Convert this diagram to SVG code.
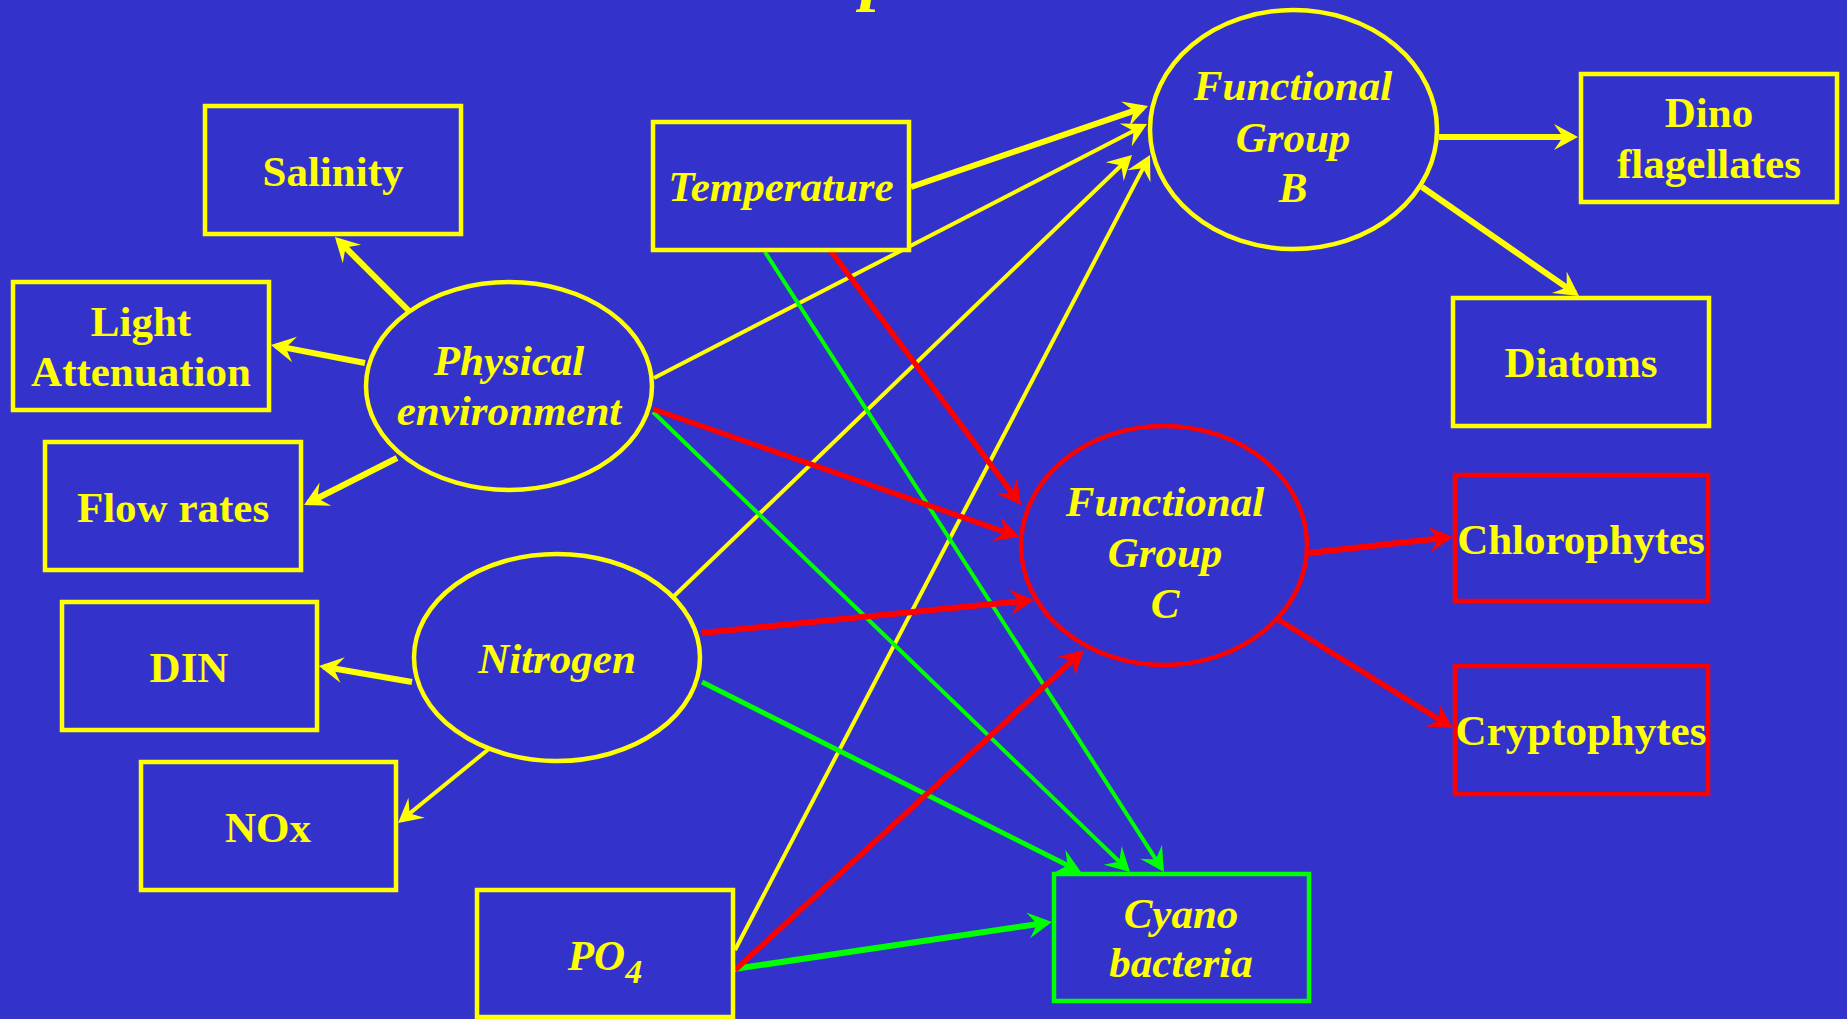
<svg xmlns="http://www.w3.org/2000/svg" width="1847" height="1019" viewBox="0 0 1847 1019">
  <style>
    .box { fill: #3333CC; stroke-width: 4.5; }
    .node { fill: #3333CC; stroke-width: 4.5; }
    .y { stroke: #FFFF00; }
    .r { stroke: #FF0000; }
    .g { stroke: #00FF00; }
    .lbl { fill: #FFFF00; font-family: "Liberation Serif", "Times New Roman", serif; font-size: 43px; font-weight: bold; text-anchor: middle; }
    .it { font-style: italic; }
    .links line { fill: none; stroke-linecap: butt; }
    .thick { stroke-width: 6; }
    .thin { stroke-width: 4; }
  </style>
  <defs>
    <marker id="ay" viewBox="-20 -14 26 28" refX="0" refY="0" markerWidth="26" markerHeight="28" markerUnits="userSpaceOnUse" orient="auto">
      <path d="M5,0 L-19,-13 L-10,0 L-19,13 Z" fill="#FFFF00"/>
    </marker>
    <marker id="ar" viewBox="-20 -14 26 28" refX="0" refY="0" markerWidth="26" markerHeight="28" markerUnits="userSpaceOnUse" orient="auto">
      <path d="M5,0 L-19,-13 L-10,0 L-19,13 Z" fill="#FF0000"/>
    </marker>
    <marker id="ag" viewBox="-20 -14 26 28" refX="0" refY="0" markerWidth="26" markerHeight="28" markerUnits="userSpaceOnUse" orient="auto">
      <path d="M5,0 L-19,-13 L-10,0 L-19,13 Z" fill="#00FF00"/>
    </marker>
  </defs>

  <!-- background -->
  <rect x="0" y="0" width="1847" height="1019" fill="#3333CC"/>

  <!-- heading, running above the top edge -->
  <text class="lbl it" x="879" y="-3" style="font-size:72px">p</text>

  <!-- connectors -->
  <g id="connectors" class="links">
    <!-- yellow -->
    <line class="y thick" x1="411" y1="313" x2="338.5" y2="240.5" marker-end="url(#ay)"/>
    <line class="y thick" x1="365" y1="363" x2="275.9" y2="345.9" marker-end="url(#ay)"/>
    <line class="y thick" x1="397" y1="458" x2="308.5" y2="502.7" marker-end="url(#ay)"/>
    <line class="y thick" x1="911" y1="187" x2="1143.3" y2="107.6" marker-end="url(#ay)"/>
    <line class="y thick" x1="1439" y1="137" x2="1573" y2="137" marker-end="url(#ay)"/>
    <line class="y thick" x1="1422" y1="187" x2="1574.9" y2="293.1" marker-end="url(#ay)"/>
    <line class="y thick" x1="412" y1="682" x2="323.9" y2="666.8" marker-end="url(#ay)"/>
    <line class="y thin" x1="654" y1="378" x2="1142.6" y2="126.3" marker-end="url(#ay)"/>
    <line class="y thin" x1="672" y1="598" x2="1128.4" y2="158.5" marker-end="url(#ay)"/>
    <line class="y thin" x1="735" y1="950" x2="1147.7" y2="159.4" marker-end="url(#ay)"/>
    <line class="y thin" x1="490" y1="748" x2="401.9" y2="819.8" marker-end="url(#ay)"/>
    <!-- green -->
    <line class="g thin" x1="765" y1="252" x2="1161.3" y2="867.8" marker-end="url(#ag)"/>
    <line class="g thin" x1="653" y1="412" x2="1126.4" y2="868.5" marker-end="url(#ag)"/>
    <line class="g" stroke-width="5" x1="702" y1="682" x2="1076.5" y2="869.8" marker-end="url(#ag)"/>
    <line class="g thick" x1="734" y1="969" x2="1047" y2="922.7" marker-end="url(#ag)"/>
    <!-- red -->
    <line class="r" stroke-width="5.5" x1="830" y1="250" x2="1018" y2="501" marker-end="url(#ar)"/>
    <line class="r" stroke-width="5.5" x1="653" y1="409" x2="1014.3" y2="535.3" marker-end="url(#ar)"/>
    <line class="r thick" x1="702" y1="633" x2="1029" y2="600.5" marker-end="url(#ar)"/>
    <line class="r" stroke-width="5.5" x1="735" y1="970" x2="1080.3" y2="653.4" marker-end="url(#ar)"/>
    <line class="r thick" x1="1309" y1="553" x2="1448" y2="537.6" marker-end="url(#ar)"/>
    <line class="r" stroke-width="5.5" x1="1279" y1="620" x2="1448.7" y2="725.4" marker-end="url(#ar)"/>
  </g>

  <!-- drivers -->
  <g id="physical">
    <ellipse class="node y" cx="509" cy="386" rx="143" ry="104"/>
    <text class="lbl it" x="509" y="375">Physical</text>
    <text class="lbl it" x="509" y="425">environment</text>
  </g>
  <g id="nitrogen">
    <ellipse class="node y" cx="557" cy="657.5" rx="143" ry="103.5"/>
    <text class="lbl it" x="557" y="673">Nitrogen</text>
  </g>
  <g id="temperature">
    <rect class="box y" x="653" y="122" width="256" height="128"/>
    <text class="lbl it" x="781" y="201">Temperature</text>
  </g>
  <g id="po4">
    <rect class="box y" x="477" y="890" width="256" height="127"/>
    <text class="lbl it" x="605" y="970">PO<tspan dy="13" style="font-size:34px">4</tspan></text>
  </g>

  <!-- physical sub-variables -->
  <g id="salinity">
    <rect class="box y" x="205" y="106" width="256" height="128"/>
    <text class="lbl" x="333" y="186">Salinity</text>
  </g>
  <g id="light">
    <rect class="box y" x="13" y="282" width="256" height="128"/>
    <text class="lbl" x="141" y="336">Light</text>
    <text class="lbl" x="141" y="386">Attenuation</text>
  </g>
  <g id="flow">
    <rect class="box y" x="45" y="442" width="256" height="128"/>
    <text class="lbl" x="173" y="522">Flow rates</text>
  </g>

  <!-- nitrogen sub-variables -->
  <g id="din">
    <rect class="box y" x="62" y="602" width="255" height="128"/>
    <text class="lbl" x="189" y="682">DIN</text>
  </g>
  <g id="nox">
    <rect class="box y" x="141" y="762" width="255" height="128"/>
    <text class="lbl" x="268" y="842">NOx</text>
  </g>

  <!-- functional groups -->
  <g id="group-b">
    <ellipse class="node y" cx="1293.5" cy="129.5" rx="143.5" ry="119.5"/>
    <text class="lbl it" x="1293" y="100">Functional</text>
    <text class="lbl it" x="1293" y="152">Group</text>
    <text class="lbl it" x="1293" y="202">B</text>
  </g>
  <g id="group-c">
    <ellipse class="node r" cx="1164" cy="545.5" rx="143" ry="119.5" stroke-width="5"/>
    <text class="lbl it" x="1165" y="516">Functional</text>
    <text class="lbl it" x="1165" y="567">Group</text>
    <text class="lbl it" x="1165" y="618">C</text>
  </g>

  <!-- taxa -->
  <g id="dino">
    <rect class="box y" x="1581" y="74" width="256" height="128"/>
    <text class="lbl" x="1709" y="127">Dino</text>
    <text class="lbl" x="1709" y="178">flagellates</text>
  </g>
  <g id="diatoms">
    <rect class="box y" x="1453" y="298" width="256" height="128"/>
    <text class="lbl" x="1581" y="377">Diatoms</text>
  </g>
  <g id="chlorophytes">
    <rect class="box r" x="1455" y="475" width="253" height="126" stroke-width="5"/>
    <text class="lbl" x="1581" y="554">Chlorophytes</text>
  </g>
  <g id="cryptophytes">
    <rect class="box r" x="1455" y="666" width="253" height="128" stroke-width="5"/>
    <text class="lbl" x="1581" y="745">Cryptophytes</text>
  </g>
  <g id="cyano">
    <rect class="box g" x="1054" y="874" width="255" height="127" stroke-width="5"/>
    <text class="lbl it" x="1181" y="928">Cyano</text>
    <text class="lbl it" x="1181" y="977">bacteria</text>
  </g>
</svg>
